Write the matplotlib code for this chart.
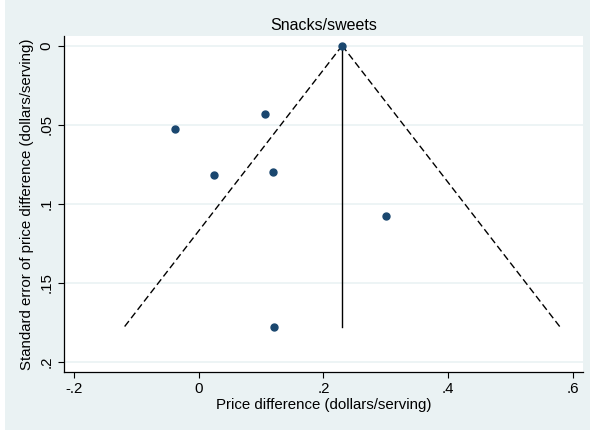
import numpy as np
import matplotlib
matplotlib.use("Agg")
import matplotlib.pyplot as plt
from matplotlib.patches import Rectangle

plt.rcParams["font.family"] = ["Liberation Sans", "DejaVu Sans"]

# study estimates: price difference and its standard error (dollars/serving)
effect = [0.230, -0.038, 0.107, 0.025, 0.119, 0.300, 0.120]
se = [0.0005, 0.053, 0.043, 0.082, 0.080, 0.108, 0.178]

xticks = [-0.2, 0, 0.2, 0.4, 0.6]
xtick_labels = ["-.2", "0", ".2", ".4", ".6"]
yticks = [0, 0.05, 0.1, 0.15, 0.2]
ytick_labels = ["0", ".05", ".1", ".15", ".2"]

bg = "#EAF2F3"
navy = "#1A476F"

effect = np.array(effect)
se = np.array(se)

# fixed-effect pooled estimate and pseudo 95% limits
w = 1 / se**2
pooled = np.sum(w * effect) / np.sum(w)
se_max = se.max()
se_line = np.array([0, se_max])

fig = plt.figure(figsize=(5.9, 4.33), dpi=100, facecolor="white")
# graph region (leaves a thin white outer margin on the left and bottom)
fig.patches.append(Rectangle((5 / 590, 3 / 433), 585 / 590, 430 / 433,
                             transform=fig.transFigure, facecolor=bg,
                             edgecolor="none", zorder=-10))

ax = fig.add_axes([0.1085, 0.1409, 0.8795, 0.776])
ax.set_facecolor("white")

for y in yticks:
    ax.axhline(y, color=bg, lw=1.2, zorder=0)

dash = (0, (5, 2.6))
ax.plot(pooled - 1.96 * se_line, se_line, color="black", ls=dash, lw=1.0)
ax.plot(pooled + 1.96 * se_line, se_line, color="black", ls=dash, lw=1.0)
ax.plot([pooled, pooled], se_line, color="black", lw=1.0)
ax.plot(effect, se, "o", color=navy, ms=5, zorder=3)

ax.set_xlim(-0.2155, 0.6155)
ax.set_ylim(0.2065, -0.0061)

ax.set_xticks(xticks)
ax.set_xticklabels(xtick_labels)
ax.set_yticks(yticks)
ax.set_yticklabels(ytick_labels, rotation=90, va="center")
ax.tick_params(axis="both", labelsize=10.8, length=4, width=0.8, pad=3.5, colors="black")

for side in ["top", "right"]:
    ax.spines[side].set_visible(False)
for side in ["left", "bottom"]:
    ax.spines[side].set_linewidth(0.9)

ax.set_xlabel("Price difference (dollars/serving)", fontsize=10.8, labelpad=1)
ax.set_ylabel("Standard error of price difference (dollars/serving)", fontsize=10.8, labelpad=4)
ax.set_title("Snacks/sweets", fontsize=11.5, pad=4)

fig.savefig("out.png", dpi=100, facecolor="white")
